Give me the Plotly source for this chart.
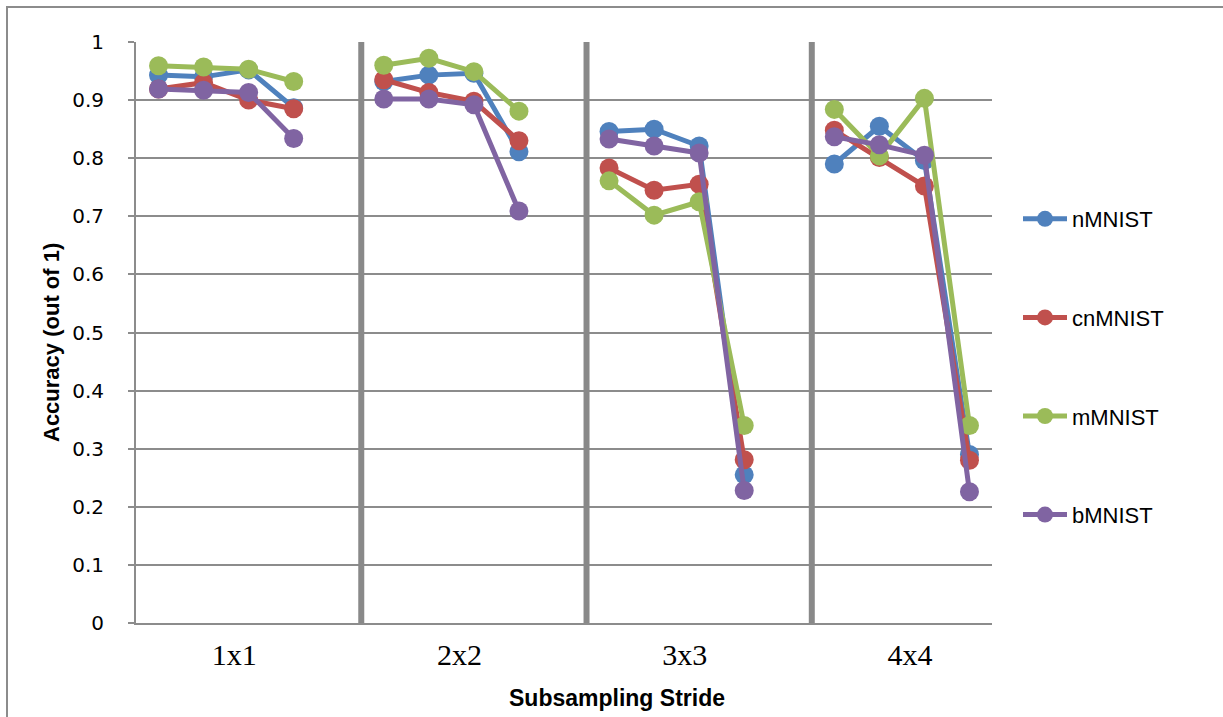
import plotly.graph_objects as go

groups = ["1x1", "2x2", "3x3", "4x4"]
series_names = ["nMNIST", "cnMNIST", "mMNIST", "bMNIST"]
colors = ["#4F81BD", "#C0504D", "#9BBB59", "#8064A2"]

nMNIST = [0.943, 0.940, 0.952, 0.887, 0.932, 0.943, 0.946, 0.811,
          0.846, 0.850, 0.821, 0.255, 0.790, 0.855, 0.796, 0.290]
cnMNIST = [0.919, 0.930, 0.900, 0.885, 0.935, 0.913, 0.898, 0.830,
           0.783, 0.745, 0.755, 0.281, 0.848, 0.801, 0.752, 0.280]
mMNIST = [0.959, 0.957, 0.953, 0.932, 0.960, 0.972, 0.949, 0.881,
          0.761, 0.702, 0.725, 0.340, 0.884, 0.804, 0.903, 0.340]
bMNIST = [0.919, 0.917, 0.913, 0.834, 0.902, 0.902, 0.892, 0.709,
          0.833, 0.821, 0.809, 0.228, 0.837, 0.823, 0.805, 0.226]

series = [nMNIST, cnMNIST, mMNIST, bMNIST]
per_group = 4
slot = per_group + 1  # one empty category slot between groups

W, H = 1223, 717
L, R, T, B = 136, 231, 42, 94
pw, ph = W - L - R, H - T - B

def build(vals):
    xs, ys = [], []
    for g in range(len(groups)):
        for i in range(per_group):
            xs.append(g * slot + i)
            ys.append(vals[g * per_group + i])
        xs.append(None)
        ys.append(None)
    return xs, ys

fig = go.Figure()
for name, vals, c in zip(series_names, series, colors):
    xs, ys = build(vals)
    fig.add_trace(go.Scatter(
        x=xs, y=ys, name=name, mode="lines+markers", legendgroup=name,
        line=dict(color=c, width=5),
        marker=dict(color=c, size=19),
        connectgaps=False,
    ))

grid = "#8c8c8c"
xmax = len(groups) * slot - 1.5

def px2x(p):
    return (p - L) / pw
def py2y(p):
    return (H - B - p) / ph

shapes = []
for g in range(1, len(groups)):
    xsep = g * slot - 0.5
    shapes.append(dict(type="line", xref="x", yref="y", x0=xsep, x1=xsep, y0=0, y1=1,
                       line=dict(color="#898989", width=6), layer="between"))
# outer chart border
shapes.append(dict(type="rect", xref="paper", yref="paper",
                   x0=px2x(7), x1=px2x(1260), y0=py2y(750), y1=py2y(7),
                   line=dict(color="#8c8c8c", width=2), fillcolor="rgba(0,0,0,0)", layer="below"))

tickpos = [g * slot + 1.68 for g in range(len(groups))]

fig.update_layout(
    width=W, height=H,
    margin=dict(l=L, r=R, t=T, b=B),
    paper_bgcolor="white", plot_bgcolor="white",
    showlegend=True,
    legend=dict(x=px2x(1018), y=py2y(198), xanchor="left", yanchor="top",
                font=dict(family="Liberation Sans", size=22, color="black"),
                tracegroupgap=67, itemwidth=44, bgcolor="rgba(0,0,0,0)"),
    xaxis=dict(range=[-0.5, xmax], tickmode="array", tickvals=tickpos, ticktext=groups,
               showgrid=False, zeroline=False, showline=True, linecolor=grid, linewidth=2,
               ticks="", ticklabelstandoff=4,
               tickfont=dict(family="Liberation Serif", size=30, color="black")),
    yaxis=dict(range=[0, 1], dtick=0.1, tick0=0, showgrid=True, gridcolor=grid, gridwidth=2,
               zeroline=False, showline=True, linecolor=grid, linewidth=2,
               ticks="outside", ticklen=6, tickwidth=2, tickcolor=grid, ticklabelstandoff=20,
               tickfont=dict(family="DejaVu Sans", size=20, color="black")),
    shapes=shapes,
    annotations=[
        dict(text="<b>Subsampling Stride</b>", xref="paper", yref="paper",
             x=px2x(617), y=py2y(698), xanchor="center", yanchor="middle", showarrow=False,
             font=dict(family="Liberation Sans", size=23, color="black")),
        dict(text="<b>Accuracy (out of 1)</b>", xref="paper", yref="paper",
             x=px2x(51), y=py2y(343), xanchor="center", yanchor="middle", showarrow=False,
             textangle=-90, font=dict(family="Liberation Sans", size=22, color="black")),
    ],
)

fig.write_html("out.html")
